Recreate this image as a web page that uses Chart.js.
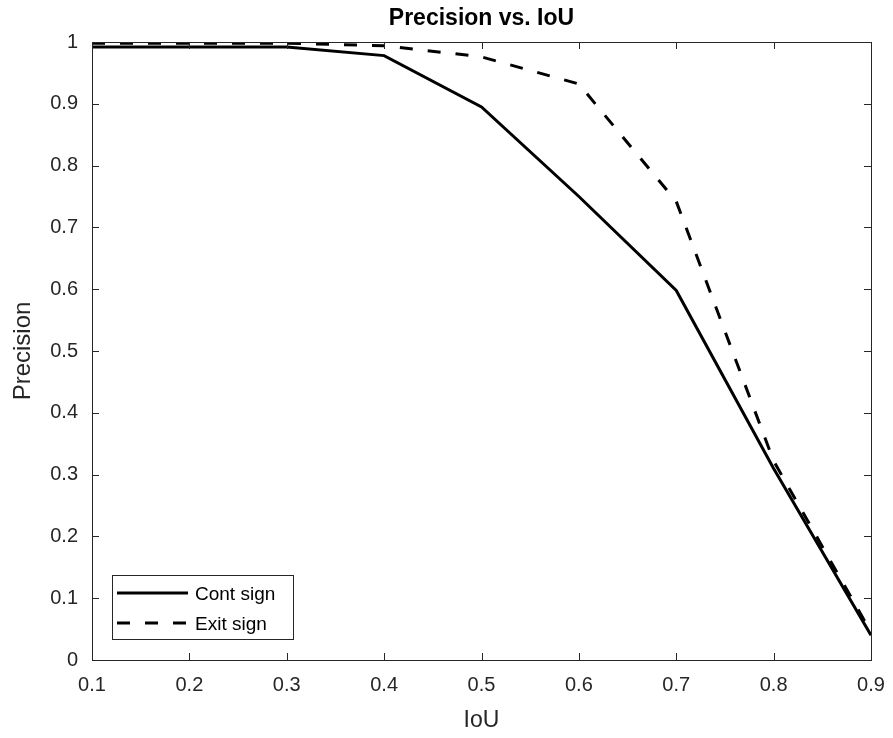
<!DOCTYPE html>
<html>
<head>
<meta charset="utf-8">
<script src="https://cdn.jsdelivr.net/npm/chart.js@4/dist/chart.umd.min.js"></script>
<style>
  html, body { margin: 0; padding: 0; background: #fff; }
  #wrap { width: 893px; height: 738px; }
</style>
</head>
<body>
<div id="wrap"><canvas id="chart" width="893" height="738"></canvas></div>
<script>
// values
let iou = [0.1, 0.2, 0.3, 0.4, 0.5, 0.6, 0.7, 0.8, 0.9];
let contSign = [0.992, 0.992, 0.992, 0.978, 0.895, 0.75, 0.598, 0.31, 0.04];
let exitSign = [0.998, 0.998, 0.998, 0.994, 0.976, 0.932, 0.742, 0.322, 0.045];
let xTicks = [0.1, 0.2, 0.3, 0.4, 0.5, 0.6, 0.7, 0.8, 0.9];
let yTicks = [0, 0.1, 0.2, 0.3, 0.4, 0.5, 0.6, 0.7, 0.8, 0.9, 1];

const axisColor = '#262626';
const fontFam = '"Liberation Sans", Arial, Helvetica, sans-serif';

function pts(ys) {
  return iou.map((x, i) => ({ x: x, y: ys[i] }));
}

// matlab-ish box, inward ticks on all four sides, title and legend
const matlabBox = {
  id: 'matlabBox',
  afterDraw(chart) {
    const ctx = chart.ctx;
    const a = chart.chartArea;
    const xs = chart.scales.x, ys = chart.scales.y;
    ctx.save();
    ctx.strokeStyle = axisColor;
    ctx.lineWidth = 1;
    ctx.strokeRect(Math.round(a.left) + 0.5, Math.round(a.top) + 0.5,
      Math.round(a.right - a.left), Math.round(a.bottom - a.top));
    ctx.beginPath();
    xTicks.forEach(v => {
      let px = Math.round(xs.getPixelForValue(v)) + 0.5;
      ctx.moveTo(px, a.bottom); ctx.lineTo(px, a.bottom - 7);
      ctx.moveTo(px, a.top); ctx.lineTo(px, a.top + 7);
    });
    yTicks.forEach(v => {
      let py = Math.round(ys.getPixelForValue(v)) + 0.5;
      ctx.moveTo(a.left, py); ctx.lineTo(a.left + 7, py);
      ctx.moveTo(a.right, py); ctx.lineTo(a.right - 7, py);
    });
    ctx.stroke();

    // title
    ctx.fillStyle = '#000';
    ctx.font = 'bold 23px ' + fontFam;
    ctx.textAlign = 'center';
    ctx.textBaseline = 'middle';
    ctx.fillText('Precision vs. IoU', (a.left + a.right) / 2, 19);

    // legend
    const lx = 112, ly = 575, lw = 181, lh = 64;
    ctx.fillStyle = '#fff';
    ctx.fillRect(lx, ly, lw, lh);
    ctx.strokeStyle = axisColor;
    ctx.lineWidth = 1;
    ctx.strokeRect(lx + 0.5, ly + 0.5, lw, lh);
    chart.data.datasets.forEach((ds, i) => {
      let yy = ly + 18 + i * 30;
      ctx.beginPath();
      ctx.strokeStyle = ds.borderColor;
      ctx.lineWidth = ds.borderWidth;
      ctx.setLineDash(ds.borderDash || []);
      ctx.moveTo(lx + 5, yy);
      ctx.lineTo(lx + 76, yy);
      ctx.stroke();
      ctx.setLineDash([]);
      ctx.fillStyle = '#000';
      ctx.font = '19px ' + fontFam;
      ctx.textAlign = 'left';
      ctx.fillText(ds.label, lx + 83, yy + 2);
    });
    ctx.restore();
  }
};

let ctx = document.getElementById('chart').getContext('2d');
var myChart = new Chart(ctx, {
  type: 'line',
  data: {
    datasets: [{
      label: 'Cont sign',
      data: pts(contSign),
      borderColor: '#000',
      borderWidth: 3,
      pointRadius: 0,
      fill: false,
      tension: 0
    }, {
      label: 'Exit sign',
      data: pts(exitSign),
      borderColor: '#000',
      borderWidth: 3,
      borderDash: [13, 15],
      pointRadius: 0,
      fill: false,
      tension: 0
    }]
  },
  options: {
    responsive: false,
    animation: false,
    layout: { padding: { left: 0, right: 22, top: 42, bottom: 0 } },
    plugins: {
      legend: { display: false },
      title: { display: false },
      tooltip: { enabled: false }
    },
    scales: {
      x: {
        type: 'linear',
        min: 0.1, max: 0.9,
        afterFit: s => { s.height = 78; s.paddingLeft = 0; s.paddingRight = 0; },
        afterBuildTicks: s => { s.ticks = xTicks.map(v => ({ value: v })); },
        grid: { display: false, drawTicks: false },
        border: { display: false },
        ticks: {
          color: axisColor, padding: 13,
          font: { family: fontFam, size: 20 },
          callback: v => String(v)
        },
        title: {
          display: true, text: 'IoU', color: axisColor,
          font: { family: fontFam, size: 23 },
          padding: { top: 0, bottom: 4 }
        }
      },
      y: {
        min: 0, max: 1,
        afterFit: s => { s.width = 92; },
        afterBuildTicks: s => { s.ticks = yTicks.map(v => ({ value: v })); },
        grid: { display: false, drawTicks: false },
        border: { display: false },
        ticks: {
          color: axisColor, padding: 14,
          font: { family: fontFam, size: 20 },
          callback: v => String(v)
        },
        title: {
          display: true, text: 'Precision', color: axisColor,
          font: { family: fontFam, size: 24 },
          padding: { top: 9, bottom: 0 }
        }
      }
    }
  },
  plugins: [matlabBox]
});
</script>
</body>
</html>
